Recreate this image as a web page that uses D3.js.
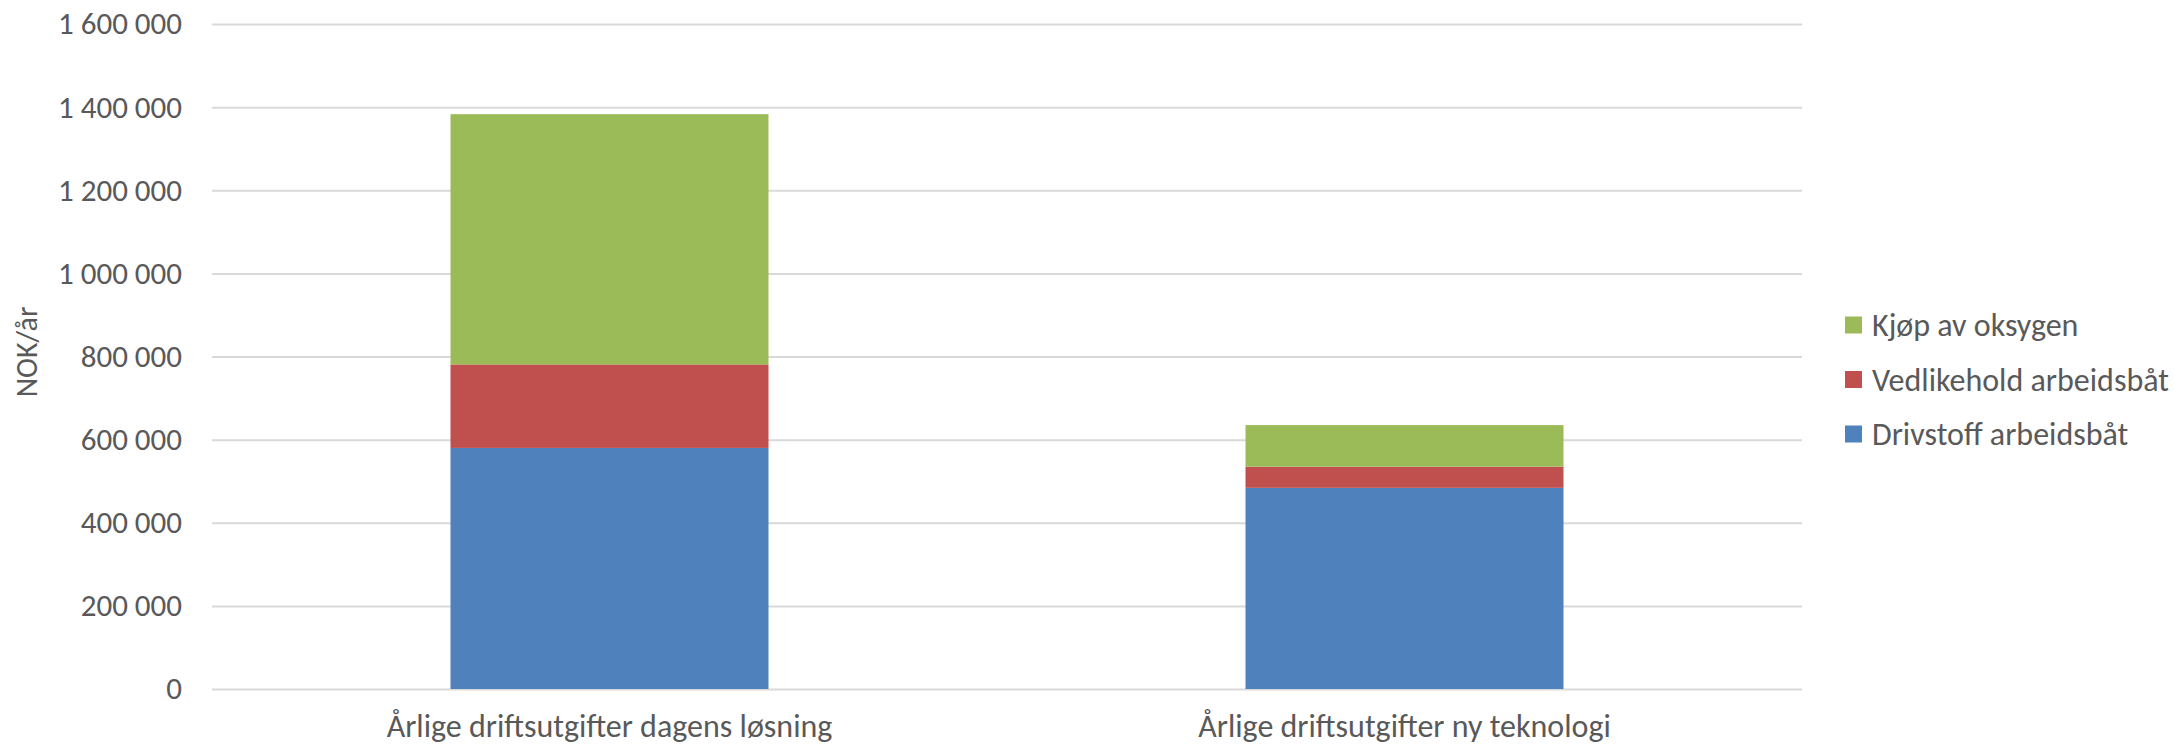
<!DOCTYPE html>
<html>
<head>
<meta charset="utf-8">
<script src="https://cdnjs.cloudflare.com/ajax/libs/d3/7.8.5/d3.min.js"></script>
<style>
  body { margin: 0; background: #fff; }
  text { font-family: Carlito, "Open Sans", sans-serif; fill: #595959; }
</style>
</head>
<body>
<div id="chart-area"></div>
<script>
// data
var categories = ["Årlige driftsutgifter dagens løsning", "Årlige driftsutgifter ny teknologi"];
var seriesNames = ["Drivstoff arbeidsbåt", "Vedlikehold arbeidsbåt", "Kjøp av oksygen"];
var drivstoff = [580000, 484000];
var vedlikehold = [201000, 51000];
var oksygen = [602000, 100000];
var yTicks = [0, 200000, 400000, 600000, 800000, 1000000, 1200000, 1400000, 1600000];
var colors = ["#4f81bd", "#c0504d", "#9bbb59"];

var width = 2174, height = 746;
var plotLeft = 212, plotRight = 1802, plotTop = 24, plotBottom = 689;

var svg = d3.select("#chart-area").append("svg")
            .attr("width", width)
            .attr("height", height);

var rows = categories.map((c, i) => {
  return { cat: c, "Drivstoff arbeidsbåt": drivstoff[i], "Vedlikehold arbeidsbåt": vedlikehold[i], "Kjøp av oksygen": oksygen[i] };
});
var stacked = d3.stack().keys(seriesNames)(rows);

var y = d3.scaleLinear()
          .domain([0, 1600000])
          .range([plotBottom, plotTop]);

var x = d3.scaleBand()
          .domain(categories)
          .range([plotLeft, plotRight])
          .paddingInner(0.6)
          .paddingOuter(0.3);

var color = d3.scaleOrdinal().domain(seriesNames).range(colors);

// gridlines + tick labels
var yAxis = svg.append("g")
               .attr("transform", "translate(" + plotLeft + ",0)")
               .call(d3.axisLeft(y).tickValues(yTicks).tickSize(-(plotRight - plotLeft)).tickPadding(30)
                       .tickFormat((d) => d3.format(",")(d).replace(/,/g, " ")));
yAxis.select(".domain").remove();
yAxis.selectAll("line").attr("stroke", "#d9d9d9").attr("stroke-width", 2);
yAxis.selectAll("text").attr("font-size", 31).attr("fill", "#595959").attr("font-family", null);

// bars
svg.append("g").selectAll("g")
   .data(stacked)
   .enter().append("g")
     .attr("fill", (d) => color(d.key))
   .selectAll("rect")
   .data((d) => d)
   .enter().append("rect")
     .attr("x", (d) => x(d.data.cat))
     .attr("y", (d) => y(d[1]))
     .attr("width", x.bandwidth())
     .attr("height", (d) => y(d[0]) - y(d[1]));

// category labels
var xAxis = svg.append("g")
               .attr("transform", "translate(0," + plotBottom + ")")
               .call(d3.axisBottom(x).tickSize(0).tickPadding(25));
xAxis.select(".domain").remove();
xAxis.selectAll("text").attr("font-size", 32).attr("fill", "#595959").attr("font-family", null);

// y title
svg.append("text")
   .attr("transform", "translate(37,352) rotate(-90)")
   .attr("text-anchor", "middle")
   .attr("font-size", 30)
   .text("NOK/år");

// legend (top to bottom: reversed stack order)
var legend = svg.append("g").selectAll("g")
                .data(seriesNames.slice().reverse())
                .enter().append("g")
                  .attr("transform", (d, i) => "translate(1845," + (325 + i * 54.5) + ")");
legend.append("rect")
      .attr("x", 0).attr("y", -8.5)
      .attr("width", 17).attr("height", 17)
      .attr("fill", (d) => color(d));
legend.append("text")
      .attr("x", 27).attr("dy", "0.35em")
      .attr("font-size", 32)
      .text((d) => d);
</script>
</body>
</html>
